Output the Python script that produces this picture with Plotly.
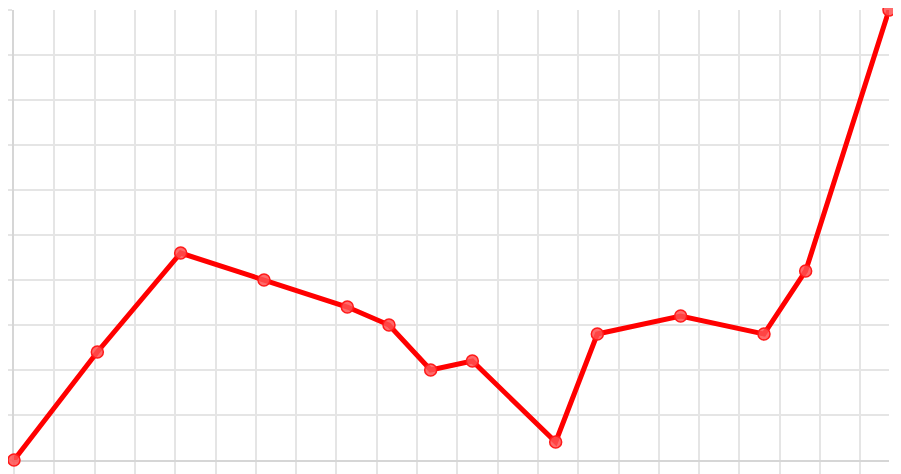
import plotly.graph_objects as go

# readings (x in steps, y on a 0-100 scale)
x_values = [0, 2, 4, 6, 8, 9, 10, 11, 13, 14, 16, 18, 19, 21]
y_values = [0, 24, 46, 40, 34, 30, 20, 22, 4, 28, 32, 28, 42, 100]

GRID = "#e5e5e5"
AXIS = "#d6d6d6"

fig = go.Figure()
fig.add_trace(
    go.Scatter(
        x=x_values,
        y=y_values,
        mode="lines+markers",
        line=dict(color="#ff0000", width=5),
        marker=dict(
            size=12,
            color="rgba(255,80,80,0.85)",
            line=dict(color="#ff1a1a", width=1.5),
        ),
        cliponaxis=False,
        hoverinfo="x+y",
    )
)

fig.update_xaxes(
    range=[0, 21],
    tick0=0,
    dtick=0.9673,
    showgrid=True,
    gridcolor=GRID,
    gridwidth=1.5,
    ticks="outside",
    ticklen=20,
    tickwidth=1.5,
    tickcolor=GRID,
    showticklabels=False,
    showline=True,
    linecolor=AXIS,
    linewidth=1.5,
    zeroline=False,
    automargin=False,
    layer="below traces",
)
fig.update_yaxes(
    range=[0, 100],
    tick0=0,
    dtick=10,
    showgrid=True,
    gridcolor=GRID,
    gridwidth=1.5,
    ticks="outside",
    ticklen=14,
    tickwidth=1.5,
    tickcolor=GRID,
    showticklabels=False,
    showline=True,
    linecolor=AXIS,
    linewidth=2,
    zeroline=False,
    automargin=False,
    layer="below traces",
)

# page body adds ~8px offset, margins compensate for it
fig.update_layout(
    width=901,
    height=474,
    margin=dict(l=6, r=20, t=2, b=22),
    paper_bgcolor="white",
    plot_bgcolor="white",
    showlegend=False,
)

fig.write_html("out.html")
